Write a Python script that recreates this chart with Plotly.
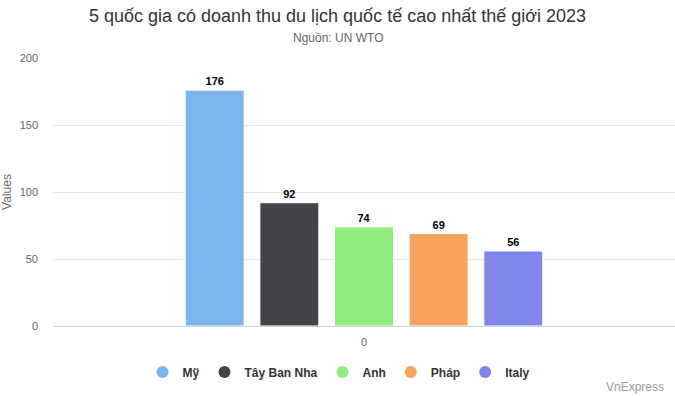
import plotly.graph_objects as go

categories = ["Mỹ", "Tây Ban Nha", "Anh", "Pháp", "Italy"]
values = [176, 92, 74, 69, 56]
colors = ["#7cb5ec", "#434348", "#90ed7d", "#f7a35c", "#8085e9"]
x_label = ["0"]
y_ticks = [0, 50, 100, 150, 200]

FONT = "Liberation Sans, Arial, sans-serif"

fig = go.Figure()
for name, v, c in zip(categories, values, colors):
    fig.add_trace(go.Bar(
        x=x_label, y=[v], name=name, legendgroup=name, showlegend=False,
        marker=dict(color=c, line=dict(color="white", width=1)),
        texttemplate="<b>%{y}</b>", textposition="outside",
        textfont=dict(family=FONT, size=11, color="#000000"),
        cliponaxis=False,
    ))
for name, c in zip(categories, colors):
    fig.add_trace(go.Scatter(
        x=[None], y=[None], mode="markers", name=name, legendgroup=name,
        marker=dict(symbol="circle", size=12, color=c),
    ))

fig.update_layout(
    width=675, height=396,
    margin=dict(l=53, r=0, t=58, b=70),
    paper_bgcolor="white", plot_bgcolor="white",
    font=dict(family=FONT, color="#666666"),
    barmode="group", bargap=0.40, bargroupgap=0.21,
    title=dict(text="5 quốc gia có doanh thu du lịch quốc tế cao nhất thế giới 2023",
               x=0.5, xref="container", xanchor="center",
               y=1 - 16 / 396, yref="container", yanchor="middle",
               font=dict(family=FONT, size=18, color="#333333")),
    showlegend=True,
    legend=dict(orientation="h", x=(339 - 53) / 622, xanchor="center",
                y=(326 - 372) / 268, yanchor="middle",
                font=dict(family=FONT, size=12, color="#333333", weight="bold"),
                itemclick=False, itemdoubleclick=False),
    hovermode=False,
    annotations=[
        dict(text="Nguồn: UN WTO", xref="paper", yref="paper",
             x=(337.5 - 53) / 622, y=(326 - 38) / 268, xanchor="center", yanchor="middle",
             showarrow=False, font=dict(family=FONT, size=12, color="#666666")),
        dict(text="VnExpress", xref="paper", yref="paper",
             x=(666 - 53) / 622, y=(326 - 387) / 268, xanchor="right", yanchor="middle",
             showarrow=False, font=dict(family=FONT, size=12, color="#999999")),
    ],
)
fig.update_xaxes(type="category", showgrid=False, showline=True, linecolor="#ccd6eb",
                 linewidth=1, ticks="", tickfont=dict(family=FONT, size=11, color="#666666"),
                 ticklabelstandoff=6, zeroline=False, fixedrange=True)
fig.update_yaxes(range=[0, 200], tickvals=y_ticks, showgrid=True, gridcolor="#e6e6e6",
                 gridwidth=1, zeroline=False, showline=False, fixedrange=True,
                 tickfont=dict(family=FONT, size=11, color="#666666"),
                 ticklabelstandoff=14,
                 title=dict(text="Values", standoff=8,
                            font=dict(family=FONT, size=12, color="#666666")))

fig.write_html("out.html", config={"displayModeBar": False},
               post_script="document.body.style.margin='0';document.body.style.overflow='hidden';")
